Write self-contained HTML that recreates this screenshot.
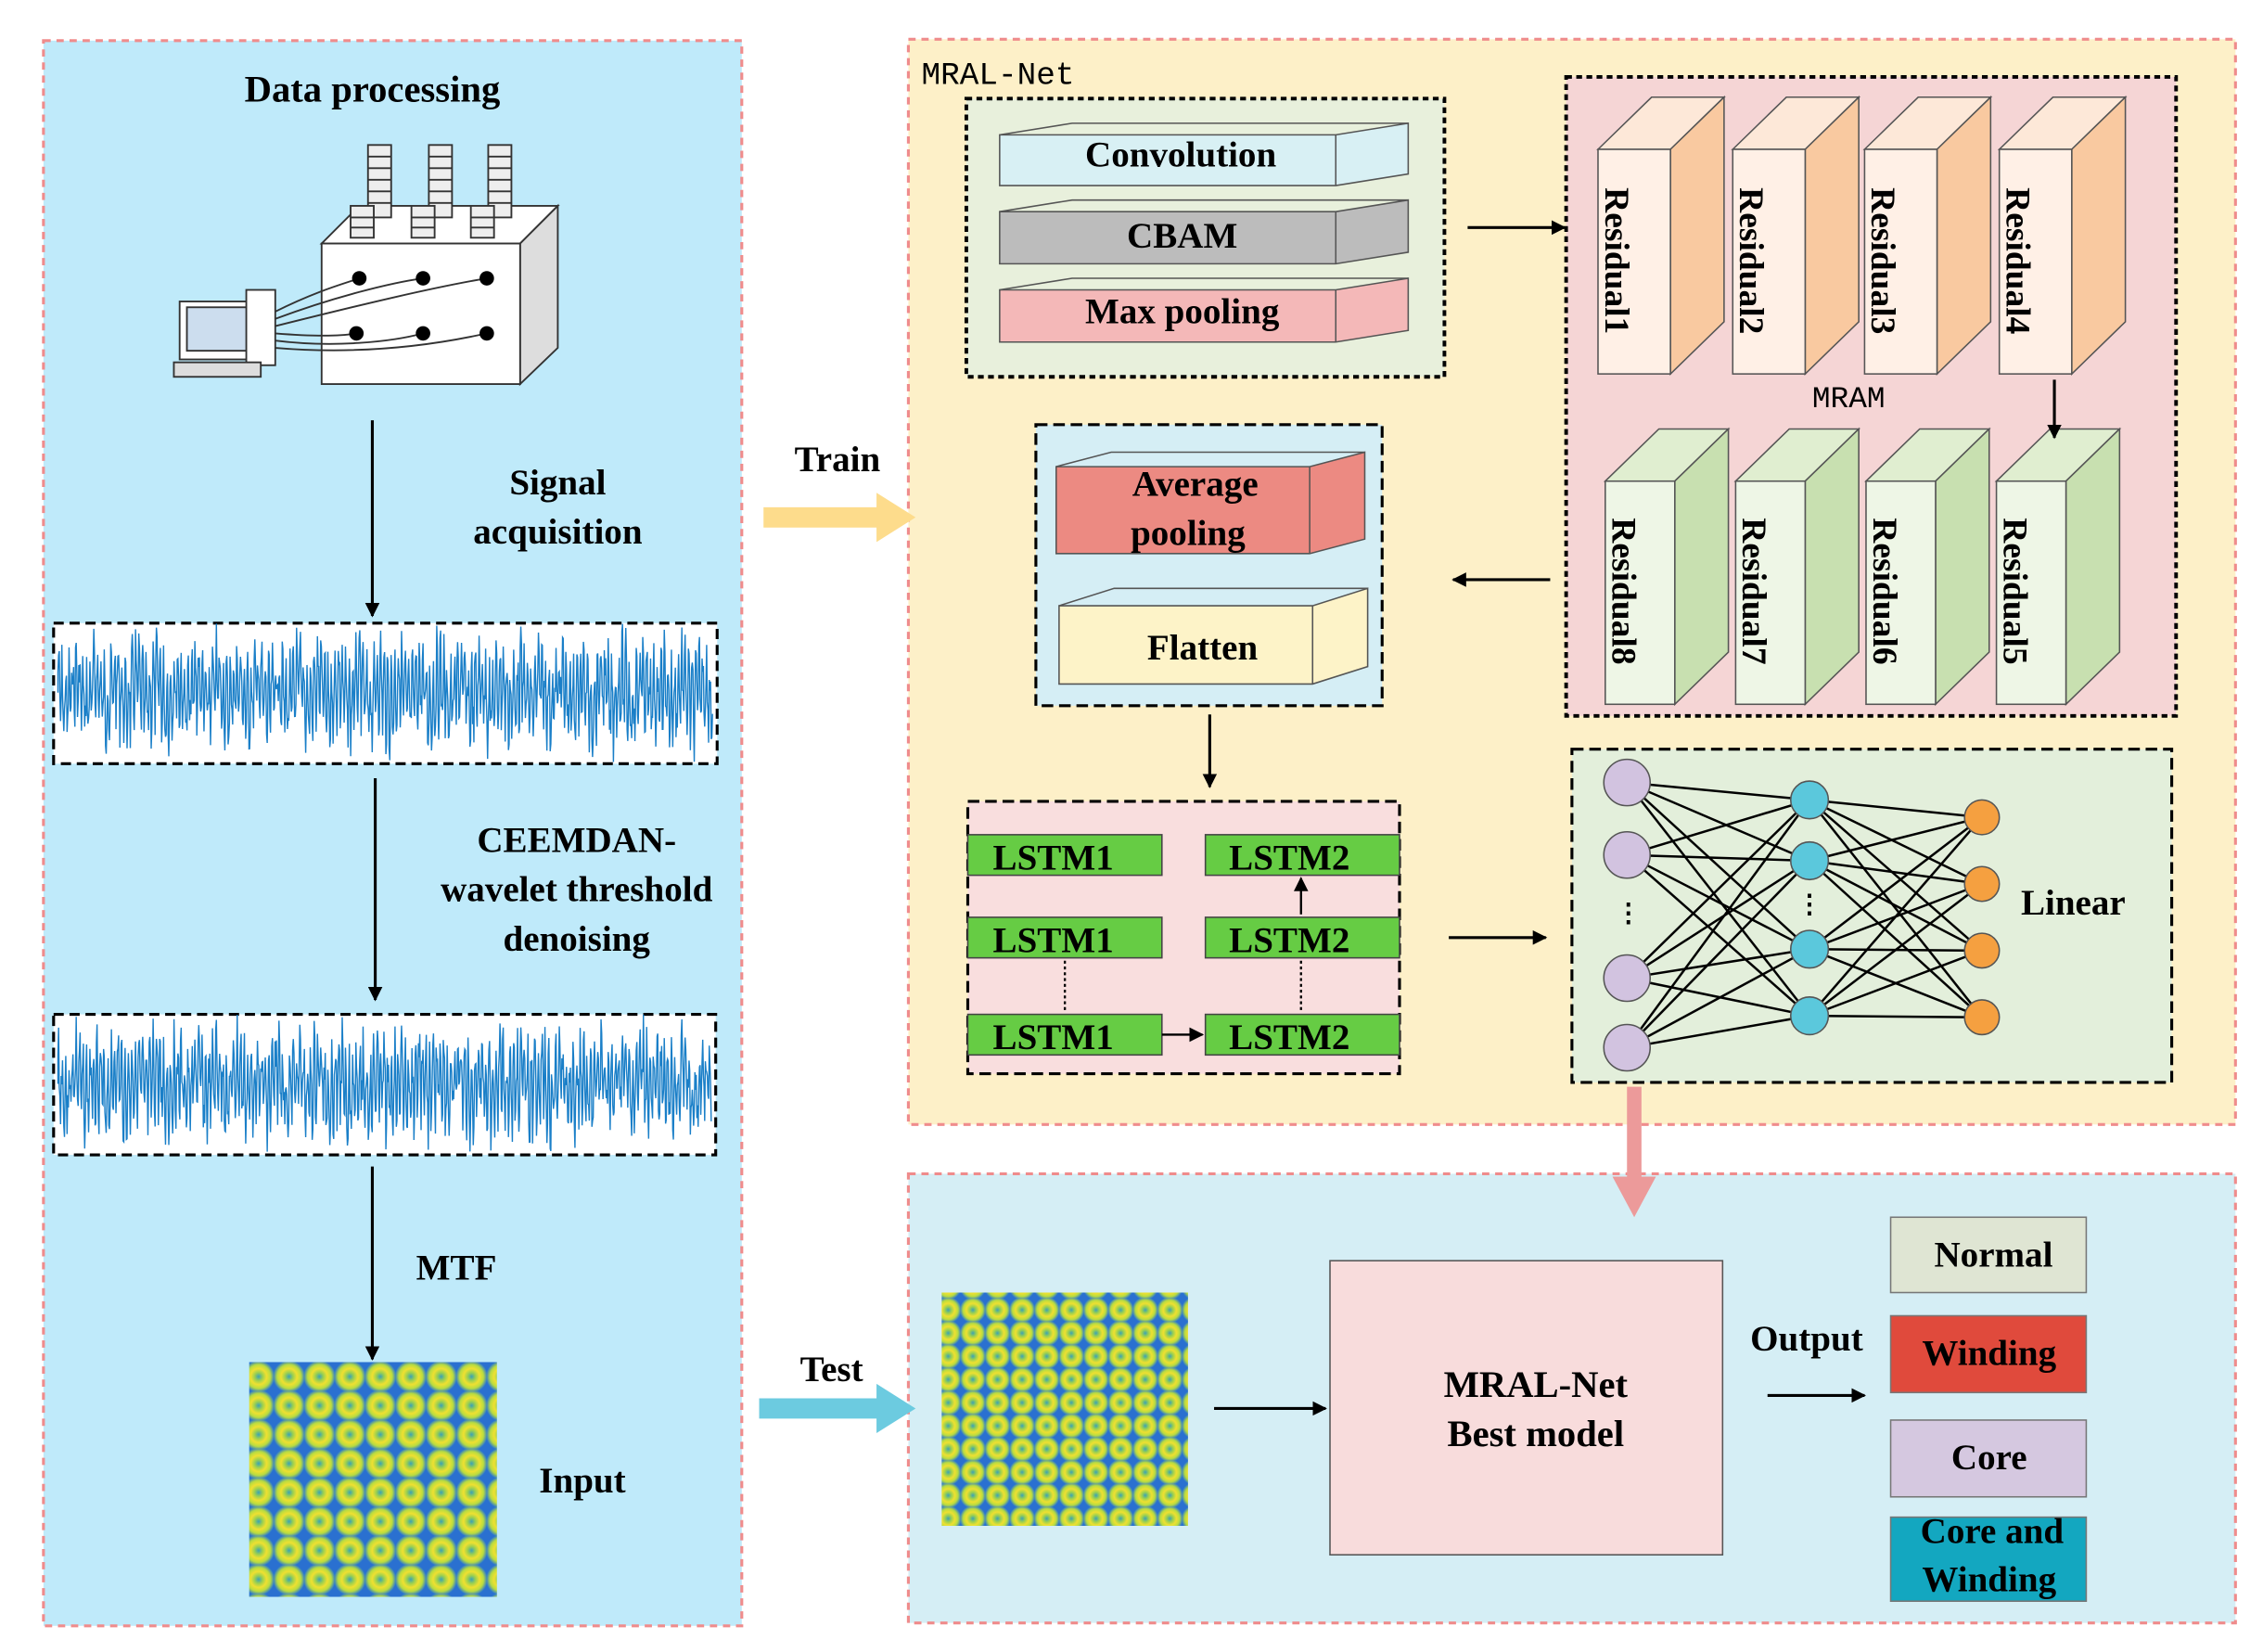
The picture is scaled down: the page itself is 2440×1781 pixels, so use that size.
<!DOCTYPE html>
<html><head><meta charset="utf-8"><style>
html,body{margin:0;padding:0;background:#fff}
svg{display:block}
text{font-family:"Liberation Serif",serif;font-weight:bold;fill:#000}
.m{font-family:"Liberation Mono",monospace;font-weight:normal}
</style></head><body>
<svg width="2440" height="1781" viewBox="0 0 1562 1140" xmlns="http://www.w3.org/2000/svg">
<defs>
<marker id="ah" markerWidth="10" markerHeight="10" refX="9" refY="5" orient="auto" markerUnits="userSpaceOnUse"><path d="M0,0 L10,5 L0,10 z" fill="#000"/></marker>
<radialGradient id="blob"><stop offset="0" stop-color="#3aa0b8"/><stop offset="0.25" stop-color="#9ad050"/><stop offset="0.5" stop-color="#f0e030"/><stop offset="0.75" stop-color="#b8dc40"/><stop offset="1" stop-color="#2a78d0"/></radialGradient>
<pattern id="mtf" width="21" height="20" patternUnits="userSpaceOnUse">
<rect width="21" height="20" fill="#2a70d0"/><circle cx="10.5" cy="10" r="11" fill="url(#blob)"/></pattern>
<pattern id="mtf2" width="17" height="16" patternUnits="userSpaceOnUse">
<rect width="17" height="16" fill="#2a70d0"/><circle cx="8.5" cy="8" r="9" fill="url(#blob)"/></pattern>
</defs>
<rect x="30" y="28" width="482" height="1094" fill="#bfeafa" stroke="#ef8c8c" stroke-width="2" stroke-dasharray="5,4"/>
<rect x="627" y="27" width="916" height="749" fill="#fdf0c8" stroke="#ef8c8c" stroke-width="2" stroke-dasharray="5,4"/>
<rect x="627" y="810" width="916" height="310" fill="#d5eef5" stroke="#ef8c8c" stroke-width="2" stroke-dasharray="5,4"/>

<text x="257" y="70" font-size="26" text-anchor="middle">Data processing</text>
<g stroke="#333" stroke-width="1.2" fill="#fff">
<polygon points="222,168 248,142 385,142 359,168"/>
<polygon points="359,168 385,142 385,240 359,265" fill="#ddd"/>
<rect x="222" y="168" width="137" height="97"/>
<g fill="#eee">
<rect x="254" y="100" width="16" height="50"/><rect x="296" y="100" width="16" height="50"/><rect x="337" y="100" width="16" height="50"/>
<rect x="242" y="142" width="16" height="22"/><rect x="284" y="142" width="16" height="22"/><rect x="325" y="142" width="16" height="22"/>
</g>
<path d="M254,108h16M254,116h16M254,124h16M254,132h16M254,140h16M296,108h16M296,116h16M296,124h16M296,132h16M296,140h16M337,108h16M337,116h16M337,124h16M337,132h16M337,140h16M242,150h16M242,157h16M284,150h16M284,157h16M325,150h16M325,157h16" fill="none"/>
<rect x="124" y="208" width="52" height="40"/><rect x="129" y="212" width="42" height="30" fill="#cde"/>
<rect x="170" y="200" width="20" height="52"/><rect x="120" y="250" width="60" height="10" fill="#ddd"/>
<path d="M190,215 C220,200 240,195 248,192 M190,220 C230,205 270,195 292,192 M190,225 C250,210 300,198 336,192 M190,230 C215,232 235,232 246,230 M190,235 C230,240 270,236 292,230 M190,240 C250,245 300,238 336,230" fill="none"/>
</g>
<g fill="#000"><circle cx="248" cy="192" r="5"/><circle cx="292" cy="192" r="5"/><circle cx="336" cy="192" r="5"/><circle cx="246" cy="230" r="5"/><circle cx="292" cy="230" r="5"/><circle cx="336" cy="230" r="5"/></g>

<line x1="257" y1="290" x2="257" y2="425" stroke="#000" stroke-width="2" marker-end="url(#ah)"/>
<text x="385" y="341" font-size="25" text-anchor="middle">Signal</text>
<text x="385" y="375" font-size="25" text-anchor="middle">acquisition</text>
<rect x="37" y="430" width="458" height="97" fill="#fff" stroke="#000" stroke-width="2" stroke-dasharray="7,4"/>
<path id="w1" fill="none" stroke="#1a7fc8" stroke-width="0.9"/>
<line x1="259" y1="537" x2="259" y2="690" stroke="#000" stroke-width="2" marker-end="url(#ah)"/>
<text x="398" y="588" font-size="25" text-anchor="middle">CEEMDAN-</text>
<text x="398" y="622" font-size="25" text-anchor="middle">wavelet threshold</text>
<text x="398" y="656" font-size="25" text-anchor="middle">denoising</text>
<rect x="37" y="700" width="457" height="97" fill="#fff" stroke="#000" stroke-width="2" stroke-dasharray="7,4"/>
<path id="w2" fill="none" stroke="#1a7fc8" stroke-width="0.9"/>
<line x1="257" y1="805" x2="257" y2="938" stroke="#000" stroke-width="2" marker-end="url(#ah)"/>
<text x="315" y="883" font-size="25" text-anchor="middle">MTF</text>
<rect x="172" y="940" width="171" height="162" fill="url(#mtf)"/>
<text x="402" y="1030" font-size="25" text-anchor="middle">Input</text>

<text x="578" y="325" font-size="25" text-anchor="middle">Train</text>
<path d="M527,350 H605 V340 L632,357 L605,374 V364 H527 z" fill="#fddc8c"/>
<text x="574" y="953" font-size="25" text-anchor="middle">Test</text>
<path d="M524,965 H605 V955 L632,972 L605,989 V979 H524 z" fill="#6ccbe0"/>

<text x="636" y="58" font-size="22" class="m">MRAL-Net</text>
<rect x="667" y="68" width="330" height="192" fill="#e8f0dc" stroke="#000" stroke-width="2.5" stroke-dasharray="4,3"/>
<g stroke="#555" stroke-width="1">
<polygon points="690,93 922,93 972,85 972,120 922,128 690,128" fill="#d8f0f4"/><path d="M690,93 L740,85 H972 M922,93V128" fill="none"/>
<polygon points="690,146 922,146 972,138 972,174 922,182 690,182" fill="#bcbcbc"/><path d="M690,146 L740,138 H972 M922,146V182" fill="none"/>
<polygon points="690,200 922,200 972,192 972,228 922,236 690,236" fill="#f4b8b8"/><path d="M690,200 L740,192 H972 M922,200V236" fill="none"/>
</g>
<text x="815" y="115" font-size="25" text-anchor="middle">Convolution</text>
<text x="816" y="171" font-size="25" text-anchor="middle">CBAM</text>
<text x="816" y="223" font-size="25" text-anchor="middle">Max pooling</text>
<line x1="1013" y1="157" x2="1080" y2="157" stroke="#000" stroke-width="2" marker-end="url(#ah)"/>

<rect x="1081" y="53" width="421" height="441" fill="#f5d5d5" stroke="#000" stroke-width="2.5" stroke-dasharray="4,3"/>
<g stroke="#555" stroke-width="1">
<polygon points="1103,103 1140,67 1190,67 1153,103" fill="#fde8d8"/><polygon points="1153,103 1190,67 1190,222 1153,258" fill="#f9c9a0"/><rect x="1103" y="103" width="50" height="155" fill="#fff0e6"/>
<polygon points="1196,103 1233,67 1283,67 1246,103" fill="#fde8d8"/><polygon points="1246,103 1283,67 1283,222 1246,258" fill="#f9c9a0"/><rect x="1196" y="103" width="50" height="155" fill="#fff0e6"/>
<polygon points="1287,103 1324,67 1374,67 1337,103" fill="#fde8d8"/><polygon points="1337,103 1374,67 1374,222 1337,258" fill="#f9c9a0"/><rect x="1287" y="103" width="50" height="155" fill="#fff0e6"/>
<polygon points="1380,103 1417,67 1467,67 1430,103" fill="#fde8d8"/><polygon points="1430,103 1467,67 1467,222 1430,258" fill="#f9c9a0"/><rect x="1380" y="103" width="50" height="155" fill="#fff0e6"/>
<polygon points="1108,332 1145,296 1193,296 1156,332" fill="#e0eed0"/><polygon points="1156,332 1193,296 1193,450 1156,486" fill="#c8e0b0"/><rect x="1108" y="332" width="48" height="154" fill="#eef6e6"/>
<polygon points="1198,332 1235,296 1283,296 1246,332" fill="#e0eed0"/><polygon points="1246,332 1283,296 1283,450 1246,486" fill="#c8e0b0"/><rect x="1198" y="332" width="48" height="154" fill="#eef6e6"/>
<polygon points="1288,332 1325,296 1373,296 1336,332" fill="#e0eed0"/><polygon points="1336,332 1373,296 1373,450 1336,486" fill="#c8e0b0"/><rect x="1288" y="332" width="48" height="154" fill="#eef6e6"/>
<polygon points="1378,332 1415,296 1463,296 1426,332" fill="#e0eed0"/><polygon points="1426,332 1463,296 1463,450 1426,486" fill="#c8e0b0"/><rect x="1378" y="332" width="48" height="154" fill="#eef6e6"/>
</g>
<g font-size="24">
<text transform="translate(1108,180) rotate(90)" text-anchor="middle">Residual1</text>
<text transform="translate(1201,180) rotate(90)" text-anchor="middle">Residual2</text>
<text transform="translate(1292,180) rotate(90)" text-anchor="middle">Residual3</text>
<text transform="translate(1385,180) rotate(90)" text-anchor="middle">Residual4</text>
<text transform="translate(1113,408) rotate(90)" text-anchor="middle">Residual8</text>
<text transform="translate(1203,408) rotate(90)" text-anchor="middle">Residual7</text>
<text transform="translate(1293,408) rotate(90)" text-anchor="middle">Residual6</text>
<text transform="translate(1383,408) rotate(90)" text-anchor="middle">Residual5</text>
</g>
<text x="1276" y="281" font-size="21" class="m" text-anchor="middle">MRAM</text>
<line x1="1418" y1="262" x2="1418" y2="302" stroke="#000" stroke-width="2" marker-end="url(#ah)"/>
<line x1="1070" y1="400" x2="1003" y2="400" stroke="#000" stroke-width="2" marker-end="url(#ah)"/>

<rect x="715" y="293" width="239" height="194" fill="#d5eef5" stroke="#000" stroke-width="2" stroke-dasharray="8,4"/>
<g stroke="#555" stroke-width="1">
<polygon points="729,322 904,322 942,312 942,372 904,382 729,382" fill="#ec8a82"/><path d="M729,322 L767,312 H942 M904,322V382" fill="none"/>
<polygon points="731,418 906,418 944,406 944,460 906,472 731,472" fill="#fdf3c8"/><path d="M731,418 L769,406 H944 M906,418V472" fill="none"/>
</g>
<text x="825" y="342" font-size="25" text-anchor="middle">Average</text>
<text x="820" y="376" font-size="25" text-anchor="middle">pooling</text>
<text x="830" y="455" font-size="25" text-anchor="middle">Flatten</text>
<line x1="835" y1="493" x2="835" y2="543" stroke="#000" stroke-width="2" marker-end="url(#ah)"/>

<rect x="668" y="553" width="298" height="188" fill="#f9dede" stroke="#000" stroke-width="2" stroke-dasharray="8,4"/>
<g fill="#66cc44" stroke="#444" stroke-width="1">
<rect x="668" y="576" width="134" height="28"/><rect x="668" y="633" width="134" height="28"/><rect x="668" y="700" width="134" height="28"/>
<rect x="832" y="576" width="134" height="28"/><rect x="832" y="633" width="134" height="28"/><rect x="832" y="700" width="134" height="28"/>
</g>
<g font-size="25">
<text x="727" y="600" text-anchor="middle">LSTM1</text><text x="727" y="657" text-anchor="middle">LSTM1</text><text x="727" y="724" text-anchor="middle">LSTM1</text>
<text x="890" y="600" text-anchor="middle">LSTM2</text><text x="890" y="657" text-anchor="middle">LSTM2</text><text x="890" y="724" text-anchor="middle">LSTM2</text>
</g>
<line x1="898" y1="631" x2="898" y2="606" stroke="#000" stroke-width="1.5" marker-end="url(#ah)"/>
<line x1="735" y1="663" x2="735" y2="698" stroke="#000" stroke-width="1.5" stroke-dasharray="2,2"/>
<line x1="898" y1="663" x2="898" y2="698" stroke="#000" stroke-width="1.5" stroke-dasharray="2,2"/>
<line x1="802" y1="714" x2="830" y2="714" stroke="#000" stroke-width="1.5" marker-end="url(#ah)"/>
<line x1="1000" y1="647" x2="1067" y2="647" stroke="#000" stroke-width="2" marker-end="url(#ah)"/>

<rect x="1085" y="517" width="414" height="230" fill="#e3efdb" stroke="#000" stroke-width="2" stroke-dasharray="8,4"/>
<g stroke="#000" stroke-width="1.6" id="net"></g>
<g stroke="#555">
<circle cx="1123" cy="540" r="16" fill="#d2c3e0"/><circle cx="1123" cy="590" r="16" fill="#d2c3e0"/><circle cx="1123" cy="675" r="16" fill="#d2c3e0"/><circle cx="1123" cy="723" r="16" fill="#d2c3e0"/>
<circle cx="1249" cy="552" r="13" fill="#5bc8dc"/><circle cx="1249" cy="594" r="13" fill="#5bc8dc"/><circle cx="1249" cy="655" r="13" fill="#5bc8dc"/><circle cx="1249" cy="701" r="13" fill="#5bc8dc"/>
<circle cx="1368" cy="564" r="12" fill="#f5a040"/><circle cx="1368" cy="610" r="12" fill="#f5a040"/><circle cx="1368" cy="656" r="12" fill="#f5a040"/><circle cx="1368" cy="702" r="12" fill="#f5a040"/>
</g>
<text x="1124" y="636" font-size="18" text-anchor="middle">⋮</text>
<text x="1249" y="630" font-size="18" text-anchor="middle">⋮</text>
<text x="1431" y="631" font-size="25" text-anchor="middle">Linear</text>
<path d="M1123,750 V812 H1113 L1128,840 L1143,812 H1133 V750 z" fill="#ec9a9a"/>

<rect x="650" y="892" width="170" height="161" fill="url(#mtf2)"/>
<line x1="838" y1="972" x2="915" y2="972" stroke="#000" stroke-width="2" marker-end="url(#ah)"/>
<rect x="918" y="870" width="271" height="203" fill="#f8dcdc" stroke="#555" stroke-width="1"/>
<text x="1060" y="964" font-size="26" text-anchor="middle">MRAL-Net</text>
<text x="1060" y="998" font-size="26" text-anchor="middle">Best model</text>
<text x="1247" y="932" font-size="25" text-anchor="middle">Output</text>
<line x1="1220" y1="963" x2="1287" y2="963" stroke="#000" stroke-width="2" marker-end="url(#ah)"/>
<rect x="1305" y="840" width="135" height="52" fill="#dfe5d3" stroke="#777"/>
<rect x="1305" y="908" width="135" height="53" fill="#e04a3c" stroke="#777"/>
<rect x="1305" y="980" width="135" height="53" fill="#d5c8e0" stroke="#777"/>
<rect x="1305" y="1047" width="135" height="58" fill="#13a7c0" stroke="#777"/>
<g font-size="25">
<text x="1376" y="874" text-anchor="middle">Normal</text>
<text x="1373" y="942" text-anchor="middle">Winding</text>
<text x="1373" y="1014" text-anchor="middle">Core</text>
<text x="1375" y="1065" text-anchor="middle">Core and</text>
<text x="1373" y="1098" text-anchor="middle">Winding</text>
</g>
</svg>
<script>
function wave(id,x0,x1,yc,amp,seed){var d="M"+x0+","+yc,s=seed;for(var x=x0;x<=x1;x+=0.45){s=(s*9301+49297)%233280;var r=s/233280;var v=Math.sin(x*2.6)*0.55+Math.sin(x*0.45)*0.2+(r-0.5)*0.9;d+=" L"+x.toFixed(2)+","+(yc+v*amp).toFixed(1);}document.getElementById(id).setAttribute("d",d);}
wave("w1",40,492,478,42,7);wave("w2",40,491,748,42,3);
var a=[[1123,540],[1123,590],[1123,675],[1123,723]],b=[[1249,552],[1249,594],[1249,655],[1249,701]],c=[[1368,564],[1368,610],[1368,656],[1368,702]],g=document.getElementById("net"),h="";
a.forEach(function(p){b.forEach(function(q){h+='<line x1="'+p[0]+'" y1="'+p[1]+'" x2="'+q[0]+'" y2="'+q[1]+'"/>';});});
b.forEach(function(p){c.forEach(function(q){h+='<line x1="'+p[0]+'" y1="'+p[1]+'" x2="'+q[0]+'" y2="'+q[1]+'"/>';});});
g.innerHTML=h;
</script>
</body></html>
